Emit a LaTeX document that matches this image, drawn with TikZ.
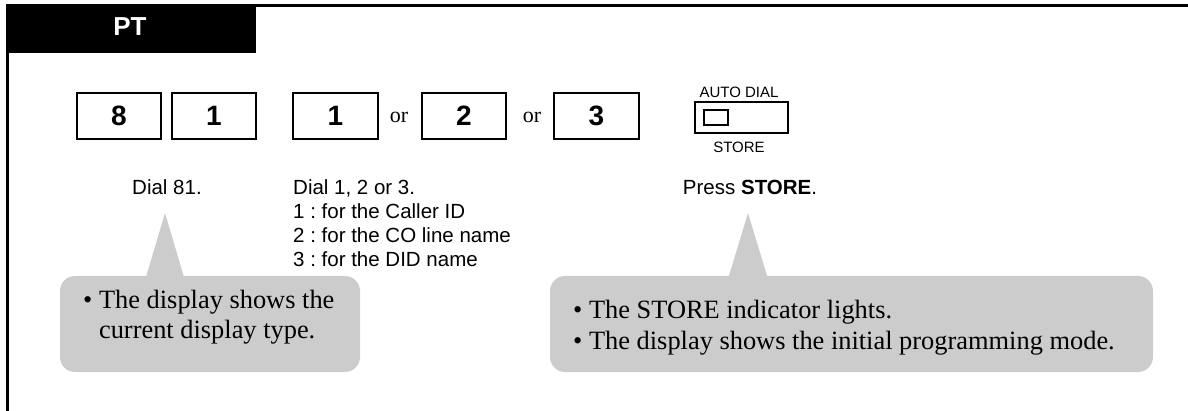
\documentclass[tikz,border=0pt]{standalone}
\usepackage{fontspec}
\setmainfont{Liberation Serif}
\setsansfont{Liberation Sans}
\frenchspacing
\definecolor{calloutgray}{RGB}{204,204,204}
\tikzset{
  keybox/.style={draw, line width=2.5pt, minimum width=84pt, minimum height=46pt, inner sep=0pt,
    font=\sffamily\bfseries\fontsize{28}{28}\selectfont},
  ortext/.style={font=\fontsize{22}{22}\selectfont, inner sep=0pt},
  labeltext/.style={font=\sffamily\fontsize{20.5}{24}\selectfont, inner sep=0pt, align=left},
  smalllabel/.style={font=\sffamily\fontsize{15}{15}\selectfont, inner sep=0pt},
  callout/.style={fill=calloutgray, rounded corners=15pt, inner sep=0pt},
  callouttext/.style={font=\fontsize{26.4}{31}\selectfont, inner sep=0pt, align=left},
}
\begin{document}
\begin{tikzpicture}[x=1pt,y=-1pt]
\useasboundingbox (0,0) rectangle (1188,411);
% frame and header
\node[fill=black, minimum width=249pt, minimum height=49pt, inner sep=0pt, anchor=north west] (header) at (7,4) {};
\node[font=\sffamily\bfseries\fontsize{26}{26}\selectfont, text=white, inner sep=0pt] (pt) at (130,27) {PT};
\draw[line width=2.5pt] (7.3,411) -- (7.3,5.5) -- (1188,5.5);
% keys
\node[keybox] (k8) at (119,116) {8};
\node[keybox] (k1) at (214,116) {1};
\node[keybox, minimum width=85pt] (d1) at (335.5,116) {1};
\node[ortext] (or1) at (399,117) {or};
\node[keybox] (d2) at (464,116) {2};
\node[ortext] (or2) at (532,117) {or};
\node[keybox, minimum width=85pt] (d3) at (596.5,116) {3};
% auto dial / store key
\node[draw, line width=2pt, minimum width=93pt, minimum height=31pt, inner sep=0pt] (store) at (741.5,117.5) {};
\node[draw, line width=2pt, minimum width=24pt, minimum height=15pt, inner sep=0pt] (lamp) at (716,117.5) {};
\node[smalllabel] (autodial) at (739,92) {AUTO DIAL};
\node[smalllabel] (storelbl) at (739,147) {STORE};
% step texts (base anchor of a multi-line node = last line)
\node[labeltext, anchor=base] (s1) at (167,194.5) {Dial 81.};
\node[labeltext, anchor=base west] (s2) at (293,266.5) {Dial 1, 2 or 3.\\1 : for the Caller ID\\2 : for the CO line name\\3 : for the DID name};
\node[labeltext, anchor=base] (s3) at (750,194.5) {Press \textbf{STORE}.};
% callouts
\node[callout, minimum width=300pt, minimum height=96pt] (c1) at (210,324) {};
\coordinate (a1) at (165,213);
\coordinate (b1) at (a1 |- c1.north);
\fill[calloutgray] (a1) -- ([xshift=-19.5pt,yshift=-3pt]b1) -- ([xshift=19.5pt,yshift=-3pt]b1) -- cycle;
\node[callouttext, anchor=base west] (t1) at (83,339) {\textbullet\ The display shows the\\\hphantom{\textbullet\ }current display type.};
\node[callout, minimum width=603pt, minimum height=96pt] (c2) at (851.5,324) {};
\coordinate (a2) at (748,213);
\coordinate (b2) at (a2 |- c2.north);
\fill[calloutgray] (a2) -- ([xshift=-20pt,yshift=-3pt]b2) -- ([xshift=20pt,yshift=-3pt]b2) -- cycle;
\node[callouttext, anchor=base west] (t2) at (573,349) {\textbullet\ The STORE indicator lights.\\\textbullet\ The display shows the initial programming mode.};
\end{tikzpicture}
\end{document}
